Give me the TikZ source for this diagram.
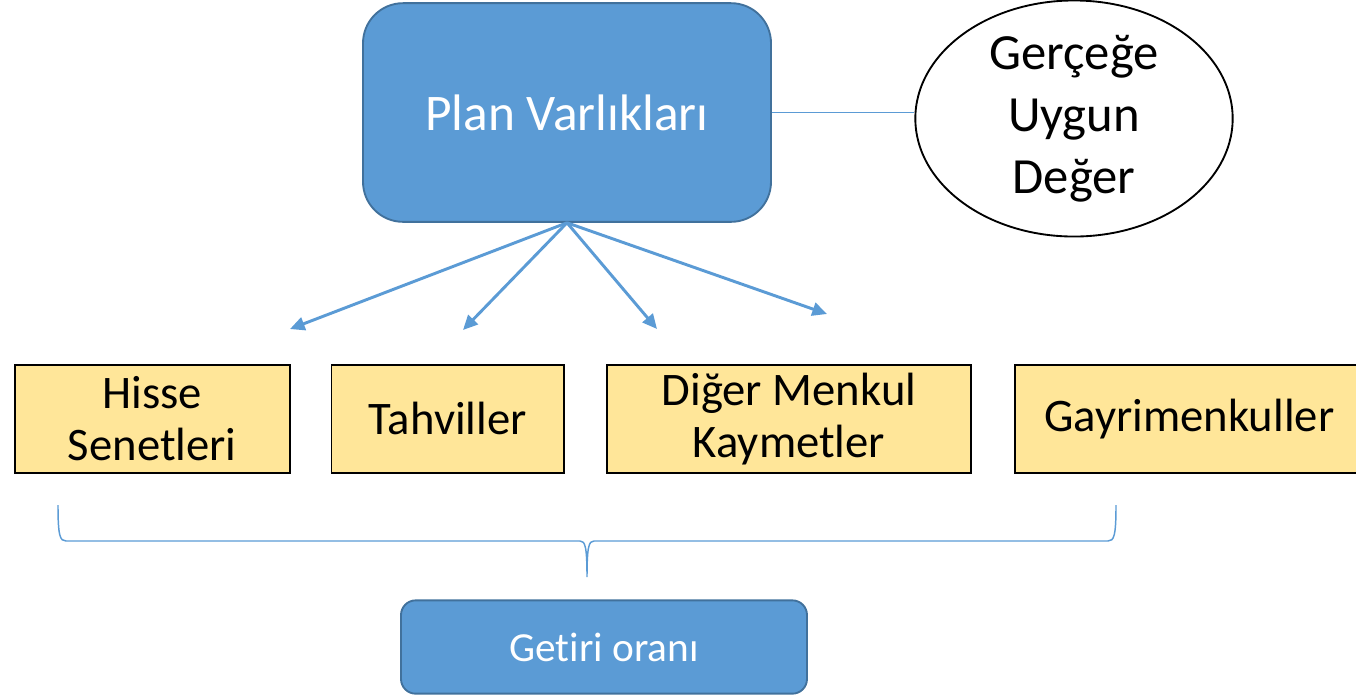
\documentclass[tikz,border=0pt]{standalone}
\usepackage{fontspec}
\setmainfont{Carlito}[RawFeature=-liga,RawFeature=-clig,RawFeature=-calt,RawFeature=-dlig]
\usetikzlibrary{positioning,arrows.meta,shapes.geometric}
\definecolor{pvblue}{HTML}{5B9BD5}
\definecolor{pvedge}{HTML}{41719C}
\definecolor{pvyellow}{HTML}{FFE699}

\begin{document}
\begin{tikzpicture}[x=0.75pt,y=-0.75pt,
    bluebox/.style={draw=pvedge,line width=1.4pt,fill=pvblue,text=white,align=center,inner sep=0pt},
    asset/.style={draw=black,line width=1.4pt,fill=pvyellow,minimum height=81pt,align=center,inner sep=0pt,font=\fontsize{35}{39}\selectfont},
    link/.style={pvblue,line width=2.2pt,-{Triangle[length=11pt,width=10pt]}}]
  \clip (0,0) rectangle (1356,694);
  \node[bluebox,rounded corners=30pt,minimum width=306pt,minimum height=164pt,font=\fontsize{38.5}{46}\selectfont] (plan) at (567,112.5) {Plan Varlıkları};
  \node[ellipse,draw,line width=1.4pt,fill=white,minimum width=238pt,minimum height=162pt,inner sep=0pt,align=center,font=\fontsize{38}{46.5}\selectfont] (fv) at (1074,118.5) {Gerçeğe\\Uygun\\Değer};
  \draw[pvblue,line width=1.1pt] (plan.east) -- (plan.east -| fv.west);

  \node[asset,minimum width=206pt,anchor=north west] (hisse) at (14,364) {Hisse\\Senetleri};
  \node[asset,minimum width=174.5pt,right=30pt of hisse] (tahvil) {Tahviller};
  \node[asset,minimum width=272.5pt,right=31pt of tahvil] (menkul) {Diğer Menkul\\Kaymetler};
  \node[asset,minimum width=261pt,right=32pt of menkul] (gayri) {Gayrimenkuller};

  \coordinate (t1) at (290,329);
  \coordinate (t2) at (463,330);
  \coordinate (t3) at (657,329);
  \coordinate (t4) at (827,314);
  \foreach \t in {t1,t2,t3,t4}
    \draw[link] (plan.south) -- (\t);

  \draw[pvblue,line width=1.1pt] (58,505) .. controls (58,536) and (60,541) .. (66,541) -- (580,541)
    .. controls (585,541) and (587,546) .. (587,577) .. controls (587,546) and (589,541) .. (594,541)
    -- (1108,541) .. controls (1114,541) and (1116,536) .. (1116,505);

  \node[bluebox,rounded corners=11pt,minimum width=304.5pt,minimum height=70pt,font=\fontsize{31}{37}\selectfont] (getiri) at (604,647) {Get\kern0pt iri oranı};
\end{tikzpicture}
\end{document}
